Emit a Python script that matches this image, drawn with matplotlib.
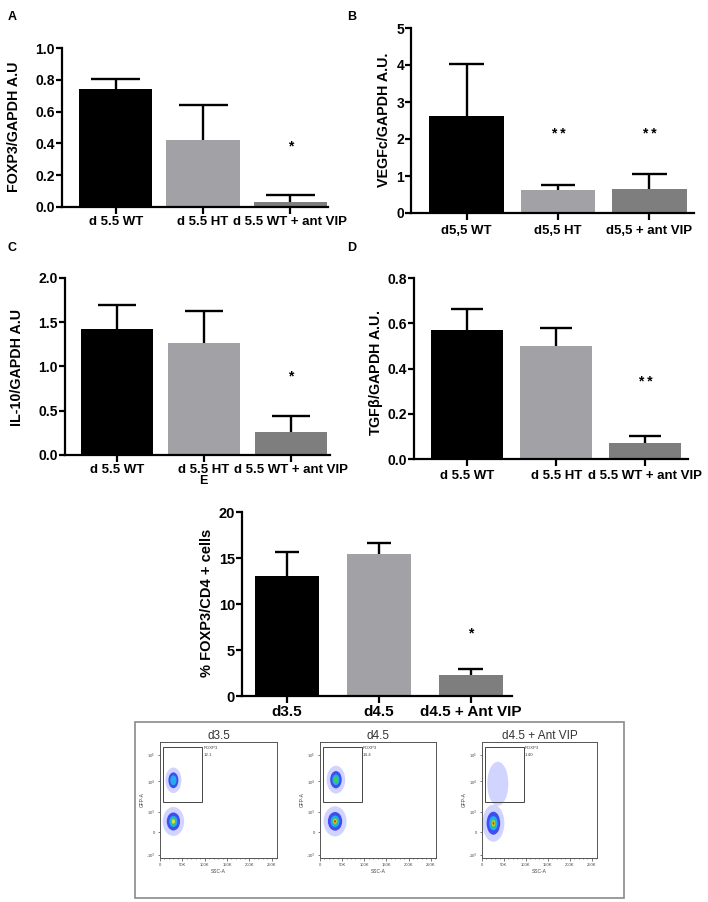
import numpy as np
import matplotlib
matplotlib.use("Agg")
import matplotlib.pyplot as plt
from matplotlib.patches import Ellipse, Rectangle
from matplotlib.ticker import MultipleLocator

plt.rcParams["font.family"] = ["Liberation Sans", "DejaVu Sans"]

W, H = 708, 902

# A - FOXP3 qPCR
foxp3_labels = ["d 5.5 WT", "d 5.5 HT", "d 5.5 WT + ant VIP"]
foxp3_mean = [0.74, 0.42, 0.03]
foxp3_sem = [0.065, 0.22, 0.043]
foxp3_sig = ["", "", "*"]
foxp3_sig_y = 0.38

# B - VEGFc qPCR
vegfc_labels = ["d5,5 WT", "d5,5 HT", "d5,5 + ant VIP"]
vegfc_mean = [2.63, 0.63, 0.655]
vegfc_sem = [1.41, 0.13, 0.395]
vegfc_sig = ["", "**", "**"]
vegfc_sig_y = 2.13

# C - IL-10 qPCR
il10_labels = ["d 5.5 WT", "d 5.5 HT", "d 5.5 WT + ant VIP"]
il10_mean = [1.42, 1.26, 0.26]
il10_sem = [0.27, 0.37, 0.18]
il10_sig = ["", "", "*"]
il10_sig_y = 0.89

# D - TGFb qPCR
tgfb_labels = ["d 5.5 WT", "d 5.5 HT", "d 5.5 WT + ant VIP"]
tgfb_mean = [0.569, 0.50, 0.072]
tgfb_sem = [0.093, 0.079, 0.029]
tgfb_sig = ["", "", "**"]
tgfb_sig_y = 0.34

# E - % FOXP3/CD4 cells
treg_labels = ["d3.5", "d4.5", "d4.5 + Ant VIP"]
treg_mean = [13.05, 15.45, 2.33]
treg_sem = [2.62, 1.13, 0.61]
treg_sig = ["", "", "*"]
treg_sig_y = 6.84

# flow cytometry dot plots (SSC-A in K, GFP-A in display units 0-1)
flow_titles = ["d3.5", "d4.5", "d4.5 + Ant VIP"]
flow_gate_pct = ["12.1", "14.4", "1.40"]
flow_gate_x = [7, 95]
flow_gate_y = [0.483, 0.954]
gfp_ticks = [0.03, 0.22, 0.40, 0.66, 0.89]
gfp_ticklabels = ["-10$^3$", "0", "10$^3$", "10$^4$", "10$^5$"]
pos_x = [30, 36, 36]
pos_y = [0.67, 0.675, 0.64]
pos_w = [36, 42, 48]
pos_h = [0.22, 0.24, 0.38]
pos_level = [2, 3, 0]
neg_x = [30, 34, 26]
neg_y = [0.315, 0.316, 0.30]
neg_w = [48, 52, 50]
neg_h = [0.25, 0.26, 0.32]
neg_level = [4, 5, 5]

bar_colors = ["#000000", "#A2A2A6", "#7E7E7E"]
density_colors = ["#a3abff", "#2f3ff2", "#22b8ea", "#3fd24a", "#f2e52a", "#e32a1c"]

fig = plt.figure(figsize=(W / 100, H / 100), dpi=100)


def px_rect(x0, y0, x1, y1):
    return [x0 / W, 1 - y1 / H, (x1 - x0) / W, (y1 - y0) / H]


def bar_panel(box, xlim, width, cap, means, sems, labels, sig, sig_y,
              ylim, yticks, yfmt, ylabel, label_xy, letter, letter_xy,
              tick_fs=10, xlab_fs=9.5, ylab_fs=10.3, xpad=1.5):
    ax = fig.add_axes(px_rect(*box))
    x = np.arange(len(means))
    means = np.array(means)
    tops = means + np.array(sems)
    ax.bar(x, means, width=width, color=bar_colors, edgecolor="none", zorder=2)
    ax.vlines(x, means, tops, color="black", lw=1.7, zorder=1)
    ax.hlines(tops, x - cap, x + cap, color="black", lw=1.7, zorder=1)
    for xi, s in zip(x, sig):
        if s:
            ax.text(xi, sig_y, " ".join(s), ha="center", va="center",
                    fontsize=10, fontweight="bold")
    ax.set_xlim(*xlim)
    ax.set_ylim(*ylim)
    ax.set_yticks(yticks)
    ax.set_yticklabels([yfmt.format(v) for v in yticks], fontsize=tick_fs,
                       fontweight="bold")
    ax.set_xticks(x)
    ax.set_xticklabels(labels, fontsize=xlab_fs, fontweight="bold")
    for side in ["top", "right"]:
        ax.spines[side].set_visible(False)
    for side in ["left", "bottom"]:
        ax.spines[side].set_linewidth(1.6)
    ax.tick_params(axis="y", length=4, width=1.6, pad=1)
    ax.tick_params(axis="x", length=5, width=1.6, pad=xpad)
    fig.text(label_xy[0] / W, 1 - label_xy[1] / H, ylabel, rotation=90,
             ha="center", va="center", fontsize=ylab_fs, fontweight="bold")
    fig.text(letter_xy[0] / W, 1 - letter_xy[1] / H, letter, fontsize=9,
             fontweight="bold", ha="center", va="center")
    return ax


bar_panel((62, 48, 328, 207), (-0.615, 2.43), 0.84, 0.28,
          foxp3_mean, foxp3_sem, foxp3_labels, foxp3_sig, foxp3_sig_y,
          (0, 1.0), [0, 0.2, 0.4, 0.6, 0.8, 1.0], "{:.1f}",
          "FOXP3/GAPDH A.U", (14, 127), "A", (12, 17))

bar_panel((411, 28, 694, 213), (-0.61, 2.49), 0.82, 0.19,
          vegfc_mean, vegfc_sem, vegfc_labels, vegfc_sig, vegfc_sig_y,
          (0, 5), [0, 1, 2, 3, 4, 5], "{:d}",
          "VEGFc/GAPDH A.U.", (384, 120), "B", (352, 17), xpad=4)

bar_panel((65, 278, 330, 455), (-0.60, 2.45), 0.83, 0.215,
          il10_mean, il10_sem, il10_labels, il10_sig, il10_sig_y,
          (0, 2.0), [0, 0.5, 1.0, 1.5, 2.0], "{:.1f}",
          "IL-10/GAPDH A.U", (17, 367), "C", (12, 248))

bar_panel((414, 278, 688, 459), (-0.60, 2.48), 0.81, 0.18,
          tgfb_mean, tgfb_sem, tgfb_labels, tgfb_sig, tgfb_sig_y,
          (0, 0.8), [0, 0.2, 0.4, 0.6, 0.8], "{:.1f}",
          "TGF$\\mathregular{\\beta}$/GAPDH A.U.", (376, 373), "D", (352, 248),
          xpad=3)

bar_panel((242, 512, 512, 696), (-0.49, 2.45), 0.70, 0.133,
          treg_mean, treg_sem, treg_labels, treg_sig, treg_sig_y,
          (0, 20), [0, 5, 10, 15, 20], "{:d}",
          "% FOXP3/CD4 + cells", (207, 603), "E", (203, 481),
          tick_fs=10.5, xlab_fs=11, ylab_fs=10.5)

# frame round the flow cytometry plots
fig.add_artist(Rectangle((135 / W, 1 - 898 / H), (624 - 135) / W, (898 - 722) / H,
                         transform=fig.transFigure, fill=False,
                         edgecolor="#8a8a8a", lw=1.2))


def density(ax, cx, cy, w, h, level):
    scale = 1.0
    for i in range(level + 1):
        ax.add_patch(Ellipse((cx, cy), w * scale, h * scale,
                             facecolor=density_colors[i], edgecolor="none",
                             alpha=0.5 if i == 0 else 0.9, zorder=2 + i))
        scale *= 0.62


flow_boxes = [(160, 742, 277, 858), (320, 742, 436, 858), (482, 742, 597, 858)]
for k, box in enumerate(flow_boxes):
    ax = fig.add_axes(px_rect(*box))
    ax.set_xlim(0, 262)
    ax.set_ylim(0, 1)
    density(ax, neg_x[k], neg_y[k], neg_w[k], neg_h[k], neg_level[k])
    density(ax, pos_x[k], pos_y[k], pos_w[k], pos_h[k], pos_level[k])
    gx0, gx1 = flow_gate_x
    gy0, gy1 = flow_gate_y
    ax.add_patch(Rectangle((gx0, gy0), gx1 - gx0, gy1 - gy0, fill=False,
                           edgecolor="#444444", lw=0.7, zorder=10))
    ax.text(gx1 + 2, gy1 - 0.01, "FOXP3", fontsize=3.2, color="#444444",
            ha="left", va="center")
    ax.text(gx1 + 2, gy1 - 0.07, flow_gate_pct[k], fontsize=3.2,
            color="#444444", ha="left", va="center")
    ax.set_xticks([0, 50, 100, 150, 200, 250])
    ax.set_xticklabels(["0", "50K", "100K", "150K", "200K", "250K"])
    ax.xaxis.set_minor_locator(MultipleLocator(10))
    ax.set_yticks(gfp_ticks)
    ax.set_yticklabels(gfp_ticklabels)
    ax.tick_params(labelsize=3, length=1.8, width=0.5, pad=1.5,
                   colors="#444444")
    ax.tick_params(which="minor", length=1, width=0.4, colors="#444444")
    for sp in ax.spines.values():
        sp.set_linewidth(0.7)
        sp.set_color("#555555")
    ax.set_xlabel("SSC-A", fontsize=3.5, color="#444444", labelpad=2)
    ax.set_ylabel("GFP-A", fontsize=3.5, color="#444444", labelpad=1)
    ax.set_title(flow_titles[k], fontsize=8.5, color="#333333", pad=1)

fig.savefig("out.png", dpi=100)
